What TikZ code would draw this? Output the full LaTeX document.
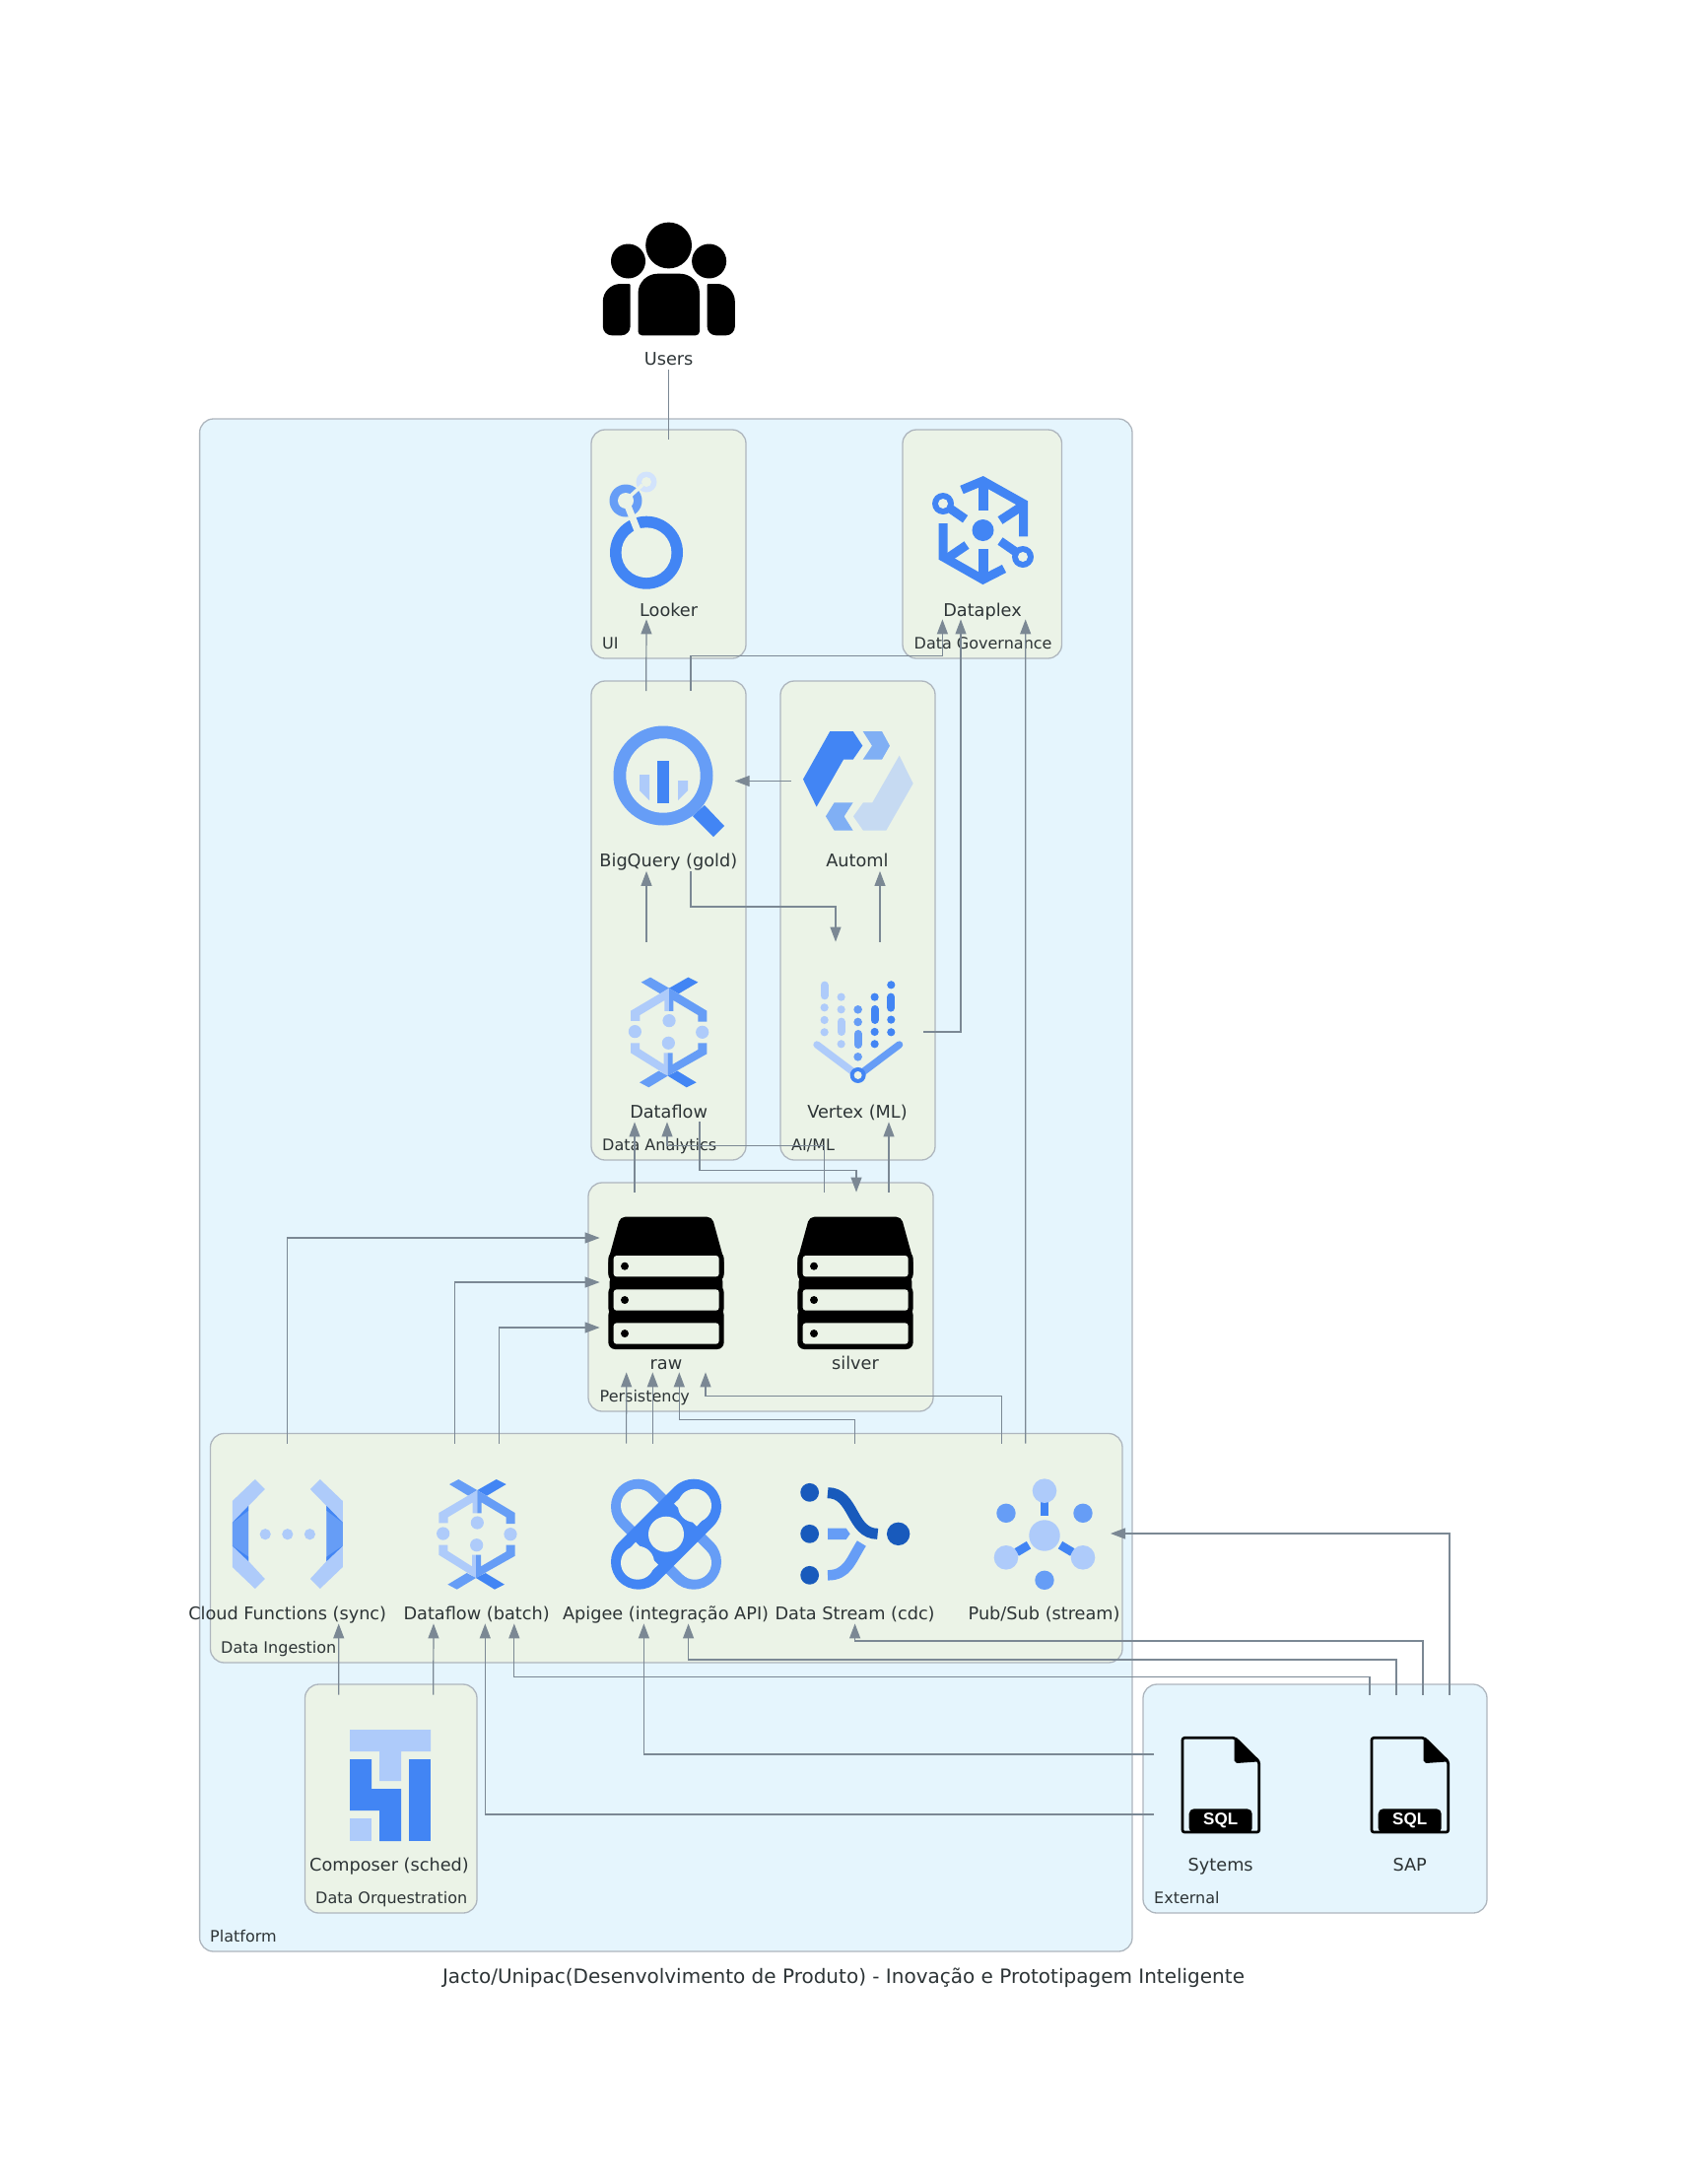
\documentclass[tikz,border=0pt]{standalone}
\usepackage{fontspec}
\setmainfont{DejaVu Sans}
\newfontfamily\sqlfont{Liberation Sans}
\usetikzlibrary{arrows.meta,positioning}

\definecolor{clusterblue}{HTML}{E5F5FD}
\definecolor{clustergreen}{HTML}{EBF3E7}
\definecolor{clusterpen}{HTML}{AEB6BE}
\definecolor{edgegray}{HTML}{7B8894}
\definecolor{textgray}{HTML}{2D3436}
\definecolor{gdark}{HTML}{4285F4}
\definecolor{gmid}{HTML}{669DF6}
\definecolor{glight}{HTML}{AECBFA}
\definecolor{gpale}{HTML}{D2E3FC}
\definecolor{gdeep}{HTML}{185ABC}
\definecolor{automid}{HTML}{80AFF4}
\definecolor{autopale}{HTML}{C6DAF2}

\tikzset{
  cluster/.style={draw=clusterpen,line width=1.3pt,rounded corners=14pt},
  clusterlabel/.style={anchor=base west,inner sep=0pt,text=textgray,font=\fontsize{16}{18}\selectfont},
  svcbox/.style={minimum width=134.4pt,minimum height=182.4pt,inner sep=0pt},
  svclabel/.style={anchor=base,inner sep=0pt,text=textgray,font=\fontsize{17.7}{20}\selectfont},
  flow/.style={draw=edgegray,line width=1.2pt,-{Triangle[length=15pt,width=11pt]}},
  plainlink/.style={draw=edgegray,line width=1.2pt},
}

% box of a service and its text
\newcommand{\svcnode}[5]{%
  \node[svcbox] (#1) at (#2,#3) {};
  \node[svclabel] (#1label) at (#2,#5) {#4};
}

\newcommand{\dataflowicon}[1]{%
  \begin{scope}[shift={(#1)},x=.3333pt,y=-.3333pt,shift={(-296,-1102)}]
    \fill[gmid] (212,950) -- (240,935) -- (297,968) -- (270,985) -- cycle;
    \fill[gdark] (297,968) -- (355,935) -- (385,950) -- (326,985) -- cycle;
    \fill[glight] (180,1068) -- (180,1037) -- (297,968) -- (297,1038) -- (283,1038) -- (283,1005) -- (208,1050) -- (208,1068) -- cycle;
    \fill[gmid] (297,968) -- (412,1037) -- (412,1070) -- (385,1070) -- (385,1050) -- (310,1005) -- (310,1038) -- (297,1038) -- cycle;
    \foreach \px/\py in {193/1100,398/1102,297/1067,295/1135}
      \fill[glight] (\px,\py) circle (6.6pt);
    \fill[glight] (180,1135) -- (180,1165) -- (293,1235) -- (293,1165) -- (281,1165) -- (281,1200) -- (207,1153) -- (207,1135) -- cycle;
    \fill[gmid] (293,1235) -- (412,1168) -- (412,1135) -- (385,1135) -- (385,1155) -- (308,1200) -- (308,1165) -- (293,1165) -- cycle;
    \fill[gmid] (207,1255) -- (235,1270) -- (293,1235) -- (265,1220) -- cycle;
    \fill[gdark] (293,1235) -- (350,1270) -- (380,1255) -- (322,1220) -- cycle;
  \end{scope}
}

\newcommand{\servericon}[1]{%
  \begin{scope}[shift={(#1)},x=.3333pt,y=-.3333pt,shift={(-288,-545)}]
    \fill[rounded corners=5pt] (148,344) -- (428,344) -- (464,475) -- (464,530) -- (112,530) -- (112,475) -- cycle;
    \fill[rounded corners=7pt] (116,520) rectangle (460,645);
    \fill[rounded corners=7pt] (112,450) rectangle (464,540);
    \fill[rounded corners=7pt] (112,553) rectangle (464,643);
    \fill[rounded corners=7pt] (112,622) rectangle (464,747);
    \foreach \py in {462,565,667} {
      \fill[clustergreen,rounded corners=3pt] (128,\py) rectangle (449,\py+64);
      \fill (162,\py+32) circle (4pt);
    }
  \end{scope}
}

\newcommand{\fileicon}[2]{%
  \begin{scope}[shift={(#1)},x=.3333pt,y=-.3333pt,shift={(-416,-394)}]
    \draw[line width=2.7pt,rounded corners=2pt,line join=round] (300,250) -- (460,250) -- (533,322) -- (533,537) -- (300,537) -- cycle;
    \fill (458,250) -- (537,322) -- (465,327) -- (458,320) -- cycle;
    \fill[rounded corners=5pt] (320,540) -- (320,466) -- (512,466) -- (512,540) -- cycle;
    \node[text=white,inner sep=0pt,font=\sqlfont\bfseries\fontsize{17}{20}\selectfont] (#2) at (416,503) {SQL};
  \end{scope}
}

\begin{document}
\begin{tikzpicture}[x=1pt,y=-1pt]
  \useasboundingbox (0,0) rectangle (1712,2216);

  % Clusters
  \draw[cluster,fill=clusterblue] (202.6,425) rectangle (1149,1980);
  \draw[cluster,fill=clusterblue] (1160,1709) rectangle (1509,1941);
  \draw[cluster,fill=clustergreen] (600,436) rectangle (757,668);
  \draw[cluster,fill=clustergreen] (916,436) rectangle (1077.5,668);
  \draw[cluster,fill=clustergreen] (600,691) rectangle (757,1177);
  \draw[cluster,fill=clustergreen] (792,691) rectangle (949,1177);
  \draw[cluster,fill=clustergreen] (597,1200) rectangle (947,1432);
  \draw[cluster,fill=clustergreen] (213.5,1454.5) rectangle (1139,1687);
  \draw[cluster,fill=clustergreen] (309.5,1709) rectangle (484,1941);

  \node[clusterlabel] (platformlabel) at (213,1970) {Platform};
  \node[clusterlabel] (externallabel) at (1171,1931.7) {External};
  \node[clusterlabel] (uilabel) at (611,658) {UI};
  \node[clusterlabel] (governancelabel) at (927.5,658) {Data Governance};
  \node[clusterlabel] (analyticslabel) at (611,1167) {Data Analytics};
  \node[clusterlabel] (aimllabel) at (803,1167) {AI/ML};
  \node[clusterlabel] (persistencylabel) at (608.5,1422) {Persistency};
  \node[clusterlabel] (ingestionlabel) at (224,1677) {Data Ingestion};
  \node[clusterlabel] (orquestrationlabel) at (320,1931.7) {Data Orquestration};

  % Services
  \svcnode{users}{678.6}{284}{Users}{370}
  \svcnode{looker}{678.6}{537}{Looker}{625}
  \svcnode{dataplex}{997}{537}{Dataplex}{625}
  \svcnode{bigquery}{678.3}{792.5}{BigQuery (gold)}{879}
  \svcnode{automl}{870}{792.5}{Automl}{879}
  \svcnode{dataflow}{678.6}{1047}{Dataflow}{1134}
  \svcnode{vertex}{870}{1047}{Vertex (ML)}{1134}
  \svcnode{raw}{676}{1301}{raw}{1389}
  \svcnode{silver}{868}{1301}{silver}{1389}
  \svcnode{functions}{291.7}{1556}{Cloud Functions (sync)}{1643}
  \svcnode{batch}{483.6}{1556}{Dataflow (batch)}{1643}
  \svcnode{apigee}{675.6}{1556}{Apigee (integração API)}{1643}
  \svcnode{stream}{867.6}{1556}{Data Stream (cdc)}{1643}
  \svcnode{pubsub}{1059.6}{1556}{Pub/Sub (stream)}{1643}
  \svcnode{composer}{395}{1811}{Composer (sched)}{1898}
  \svcnode{sytems}{1238.7}{1811}{Sytems}{1898}
  \svcnode{sap}{1430.7}{1811}{SAP}{1898}

  % Users icon
  \fill (678.6,249) circle (23.4);
  \fill (637.5,265) circle (17.5);
  \fill (719.6,265) circle (17.5);
  \fill[rounded corners=4pt] (647.5,340.3) -- (710,340.3) [rounded corners=20pt] -- (710,277.7) -- (647.5,277.7) [rounded corners=4pt] -- cycle;
  \fill[rounded corners=1pt] (639.6,340.3) [rounded corners=1pt] -- (639.6,288) [rounded corners=18pt] -- (611.8,288) [rounded corners=9pt] -- (611.8,340.3) -- cycle;
  \fill[rounded corners=1pt] (717.6,340.3) [rounded corners=1pt] -- (717.6,288) [rounded corners=18pt] -- (745.8,288) [rounded corners=9pt] -- (745.8,340.3) -- cycle;

  % Looker icon
  \fill[gdark] (656,560.7) circle (37);
  \fill[clustergreen] (656,560.7) circle (25.4);
  \fill[gmid] (635,508) circle (16.5);
  \fill[clustergreen] (635,508) circle (8);
  \fill[gpale] (656,489) circle (10.5);
  \fill[clustergreen] (656,489) circle (5);
  \draw[clustergreen,line width=7pt] (637,513) -- (648,541);
  \draw[clustergreen,line width=3.5pt] (640,503) -- (652,492);

  % Dataplex icon
  \begin{scope}[gdark]
    \draw[line width=9pt,miter limit=4] (976,497) -- (997.5,488) -- (1038.5,511) -- (1038.5,544.3);
    \draw[line width=9pt,miter limit=4] (957,531) -- (957,565) -- (997.5,588) -- (1019,577);
    \draw[line width=10pt] (997.5,488) -- (997.5,518);
    \draw[line width=10pt] (997.5,588) -- (997.5,557);
    \draw[line width=9pt] (1038,513) -- (1015,528);
    \draw[line width=9pt] (959,568) -- (981,553);
    \draw[line width=9pt] (957,511) -- (979.6,526.7);
    \draw[line width=9pt] (1038,565) -- (1015,549);
    \fill[gdark] (957,511) circle (11);
    \fill[gdark] (1038,565) circle (11);
    \fill[clustergreen] (957,511) circle (5);
    \fill[clustergreen] (1038,565) circle (5);
    \fill[gdark] (997.5,538) circle (11);
  \end{scope}

  % BigQuery icon
  \fill[gmid] (673,787) circle (50.5);
  \fill[clustergreen] (673,787) circle (37.7);
  \fill[gdark] (715,817) -- (735,838) -- (724,849) -- (703,828) -- cycle;
  \fill[gdark] (667,772) rectangle (679,815);
  \fill[glight] (649,786) -- (659,786) -- (659,812) -- (649,802) -- cycle;
  \fill[glight] (688,792) -- (698,792) -- (698,802) -- (688,812) -- cycle;

  % Automl icon
  \begin{scope}[shift={(580,680)},x=.3333pt,y=-.3333pt]
    \fill[gdark] (787,186) -- (857,186) -- (886,230) -- (857,272) -- (828,272) -- (746,416) -- (705,332) -- cycle;
    \fill[automid] (887,186) -- (945,186) -- (969,230) -- (945,272) -- (887,272) -- (915,230) -- cycle;
    \fill[autopale] (998,260) -- (1040,345) -- (958,488) -- (888,488) -- (858,445) -- (888,403) -- (916,403) -- cycle;
    \fill[automid] (800,403) -- (857,403) -- (830,445) -- (857,488) -- (800,488) -- (774,445) -- cycle;
  \end{scope}

  % Dataflow icons
  \dataflowicon{678.7,1047.3}
  \dataflowicon{484,1556.7}

  % Vertex icon
  \begin{scope}[shift={(580,680)},x=.3333pt,y=-.3333pt,line cap=round]
    \draw[glight,line width=7.3pt] (747,1140) -- (860,1225);
    \draw[gmid,line width=7.3pt] (998,1140) -- (885,1225);
    \fill[gdark] (872,1233) circle (8pt);
    \fill[clustergreen] (872,1233) circle (4pt);
    \foreach \px/\py in {770/1027,770/1065,770/1102,821/995,821/1033,821/1138}
      \fill[glight] (\px,\py) circle (4.1pt);
    \foreach \px/\py in {872/1033,872/1071,872/1177}
      \fill[gmid] (\px,\py) circle (4.3pt);
    \foreach \px/\py in {923/995,923/1101,923/1138,973/958,973/1064,973/1102}
      \fill[gdark] (\px,\py) circle (4.1pt);
    \draw[glight,line width=8pt] (770,959) -- (770,991);
    \draw[glight,line width=8pt] (821,1070) -- (821,1101);
    \draw[gmid,line width=8pt] (872,1107) -- (872,1140);
    \draw[gdark,line width=8pt] (923,1032) -- (923,1065);
    \draw[gdark,line width=8pt] (973,995) -- (973,1028);
  \end{scope}

  % Storage icons
  \servericon{676,1301.7}
  \servericon{868,1301.7}

  % Cloud Functions icon
  \begin{scope}[shift={(291.8,1556.7)}]
    \foreach \side in {1,-1} {
      \begin{scope}[xscale=\side]
        \fill[glight] (-33,-55.7) -- (-23,-45.7) -- (-39.6,-28.7) -- (-39.6,27.3) -- (-23,45.3) -- (-33,55.3) -- (-56,33.3) -- (-56,-33.7) -- cycle;
        \fill[gmid] (-56,-11.7) -- (-39.6,-28.7) -- (-39.6,27.3) -- (-56,11.7) -- cycle;
        \fill[gdark] (-56,-11.7) -- (-39.6,-28.7) -- (-39.6,-24) -- cycle;
        \fill[gdark] (-56,11.7) -- (-39.6,27.3) -- (-39.6,23) -- cycle;
      \end{scope}
    }
    \foreach \px in {-22.6,0,22.6}
      \fill[glight] (\px,0) circle (5.6);
  \end{scope}

  % Apigee icon
  \begin{scope}[shift={(676,1556.7)},line cap=round]
    \draw[gmid,line width=56pt] (-28,-28) -- (28,28);
    \draw[clustergreen,line width=34pt] (-29,-29) -- (29,29);
    \draw[gdark,line width=56pt] (28,-28) -- (-28,28);
    \foreach \side in {1,-1} {
      \begin{scope}[scale=\side]
        \fill[clustergreen] (29,-29) circle (17);
        \fill[clustergreen] (8,-31) -- (31,-8) -- (41,-19) -- (19,-41) -- cycle;
      \end{scope}
    }
    \fill[clustergreen] (0,0) circle (18);
  \end{scope}

  % Data Stream icon
  \begin{scope}[shift={(780,1440)},x=.3333pt,y=-.3333pt]
    \foreach \py in {223,349,475}
      \fill[gdeep] (125,\py) circle (9.4pt);
    \fill[gdeep] (395,349) circle (11.7pt);
    \draw[gdeep,line width=11pt] (180,224) .. controls (262,224) and (250,349) .. (332,349);
    \fill[gmid] (180,332) -- (236,332) -- (248,349) -- (236,366) -- (180,366) -- cycle;
    \draw[gmid,line width=10.5pt] (180,475) .. controls (240,475) and (250,430) .. (283,378);
  \end{scope}

  % Pub/Sub icon
  \begin{scope}[shift={(980,1440)},x=.3333pt,y=-.3333pt]
    \draw[gdark,line width=8.7pt] (240,250) -- (240,295);
    \draw[gdark,line width=8.7pt] (155,405) -- (192,383);
    \draw[gdark,line width=8.7pt] (288,383) -- (325,405);
    \fill[glight] (240,354) circle (15.7pt);
    \foreach \px/\py in {240/218,123/421,357/421}
      \fill[glight] (\px,\py) circle (12.3pt);
    \foreach \px/\py in {123/286,357/286,240/490}
      \fill[gmid] (\px,\py) circle (9.7pt);
  \end{scope}

  % Composer icon
  \fill[glight] (355,1755) -- (437,1755) -- (437,1777) -- (407,1777) -- (407,1807) -- (385,1807) -- (385,1777) -- (355,1777) -- cycle;
  \fill[gdark] (415,1785) rectangle (437,1868);
  \fill[gdark] (355,1785) -- (377,1785) -- (377,1815) -- (407,1815) -- (407,1868) -- (385,1868) -- (385,1837) -- (355,1837) -- cycle;
  \fill[glight] (355,1845) rectangle (377,1868);

  % File icons
  \fileicon{1238.7,1811.3}{sytemssql}
  \fileicon{1430.7,1811.3}{sapsql}

  % Connectors
  \draw[plainlink] (users.south) -- (looker.north);
  \draw[flow] ([xshift=-22.6]bigquery.north) -- ([xshift=-22.6]looker.south);
  \draw[flow] ([xshift=22.7]bigquery.north) -- ++(0,-36) -| ([xshift=-40.6]dataplex.south);
  \draw[flow] (vertex.east) -| ([xshift=-22]dataplex.south);
  \draw[flow] ([xshift=-18.9]pubsub.north) -- ([xshift=43.7]dataplex.south);
  \draw[flow] (automl.west) -- (bigquery.east);
  \draw[flow] ([xshift=-22.6]dataflow.north) -- ([xshift=-22.3]bigquery.south);
  \draw[flow] ([xshift=22.7]bigquery.south) -- ++(0,36) -| ([xshift=-22]vertex.north);
  \draw[flow] ([xshift=23]vertex.north) -- ([xshift=23]automl.south);
  \draw[flow] ([xshift=-32]raw.north) -- ([xshift=-34.6]dataflow.south);
  \draw[flow] ([xshift=-31.7]silver.north) -- ++(0,-47.3) -| ([xshift=-1.6]dataflow.south);
  \draw[flow] ([xshift=34]silver.north) -- ([xshift=32]vertex.south);
  \draw[flow] ([xshift=31.4]dataflow.south) -- ++(0,48.7) -| ([xshift=1]silver.north);
  \draw[flow] (functions.north) |- ([yshift=45]raw.west);
  \draw[flow] ([xshift=-22]batch.north) |- (raw.west);
  \draw[flow] ([xshift=22.5]batch.north) |- ([yshift=-46]raw.west);
  \draw[flow] ([xshift=-40]apigee.north) -- ([xshift=-40.3]raw.south);
  \draw[flow] ([xshift=-13.3]apigee.north) -- ([xshift=-13.7]raw.south);
  \draw[flow] (stream.north) -- ++(0,-24) -| ([xshift=13.3]raw.south);
  \draw[flow] ([xshift=-43]pubsub.north) -- ++(0,-48) -| ([xshift=40]raw.south);
  \draw[flow] ([xshift=-51.2]composer.north) -- ([xshift=52]functions.south);
  \draw[flow] ([xshift=44.7]composer.north) -- ([xshift=-43.6]batch.south);
  \draw[flow] ([yshift=-30]sytems.west) -| ([xshift=8.7]batch.south);
  \draw[flow] ([yshift=31]sytems.west) -| ([xshift=-22.2]apigee.south);
  \draw[flow] ([xshift=-40.7]sap.north) -- ++(0,-18.4) -| ([xshift=38.2]batch.south);
  \draw[flow] ([xshift=-13.7]sap.north) -- ++(0,-35.7) -| ([xshift=23]apigee.south);
  \draw[flow] ([xshift=13.3]sap.north) -- ++(0,-54.7) -| (stream.south);
  \draw[flow] ([xshift=40.3]sap.north) |- (pubsub.east);

  % Title
  \node[anchor=base,inner sep=0pt,text=textgray,font=\fontsize{20}{23}\selectfont] (title) at (856,2012) {Jacto/Unipac(Desenvolvimento de Produto) - Inovação e Prototipagem Inteligente};
\end{tikzpicture}
\end{document}
